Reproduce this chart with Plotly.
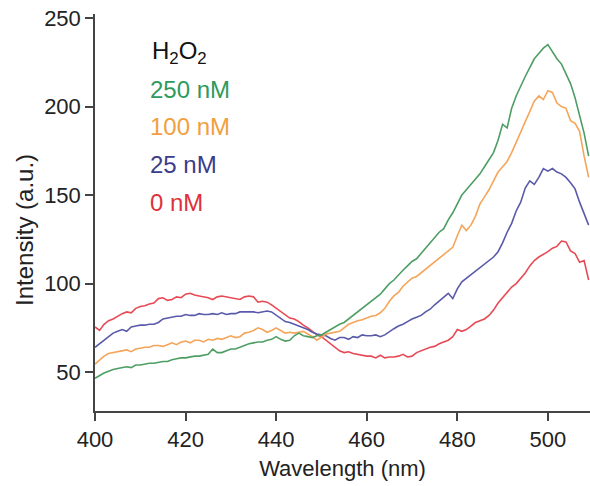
import plotly.graph_objects as go

wavelength = list(range(400, 510))

i_0nM = [75.5, 73.5, 77, 79, 80, 81.5, 83, 84, 83.5, 86,
         87, 87.5, 88.5, 89, 91.5, 92, 90.5, 91, 92.5, 92,
         94, 94.5, 93.5, 93, 92.5, 92, 91, 92.5, 93, 92.5,
         92, 91.5, 91, 92.5, 93, 92.5, 89.5, 90, 89.5, 88,
         86, 84, 82, 80.5, 80, 78.5, 76.5, 75, 73, 71,
         70, 68, 66.5, 64, 62, 61, 61.5, 60.5, 60, 59.5,
         59, 59, 58, 59.5, 58, 58.5, 58.5, 59, 60, 58.5,
         59, 61, 62, 63, 64, 64.5, 66, 67, 68, 70,
         74, 73, 74, 76, 78, 79, 80, 82, 85, 89,
         92, 95, 98, 100, 103, 106, 110, 113, 115, 116.5,
         118, 120, 121, 124, 123.5, 118.5, 117, 112, 113, 102]

i_25nM = [64, 66, 68.5, 70.5, 72, 73, 74, 73, 75.5, 76,
          76.5, 76.5, 77, 77, 78, 80, 80.5, 81, 81.5, 81.5,
          82.5, 82, 82, 83, 82.5, 82.5, 83, 82.5, 83.5, 82.5,
          83, 83, 84, 84, 84, 84, 83.5, 84, 84.5, 84,
          82, 80.5, 78.5, 78, 77, 76, 75, 74, 72.5, 71.5,
          71, 70.5, 69, 68, 69.5, 69.5, 68.5, 70, 69.5, 71,
          70.5, 70.5, 71, 70, 71, 73, 74.5, 76, 77, 78.5,
          80, 81, 82, 84, 85.5, 88, 90, 92, 94.5, 91.5,
          97, 101, 103, 105, 106.5, 109, 111, 113, 115, 118,
          123, 129, 134, 141, 146, 154, 158, 156, 160, 165,
          163.5, 165, 163, 162, 160, 157, 153.5, 146, 139, 133]

i_100nM = [54.5, 57, 59, 60.5, 61, 61.5, 62, 62.5, 61.5, 63,
           63.5, 64, 64, 65, 65, 64.5, 65.5, 66.5, 65.5, 67,
           67.5, 66.5, 68, 68, 67, 68.5, 68, 69, 68.5, 69.5,
           70.5, 69.5, 70, 72, 72.5, 73.5, 75, 74, 72.5, 73.5,
           75, 73.5, 72, 72.5, 72, 72.5, 73, 71.5, 70, 68,
           70, 71.5, 72, 72.5, 73, 75, 77, 78, 79, 79.5,
           80.5, 81.5, 82, 83.5, 86, 90, 93, 95, 98.5, 101,
           103, 104, 106, 108, 110, 112, 114.5, 116, 118, 120.5,
           127, 133, 130, 133, 138, 145, 149, 153, 158, 163,
           166, 169, 174, 180, 186, 192, 198, 203, 206, 204,
           209, 208, 202, 200, 199, 192, 190.5, 186, 172, 160]

i_250nM = [46.5, 48, 49.5, 50.5, 51.5, 52, 52.5, 53, 52.5, 54,
           54, 54.5, 55, 55, 55.5, 56, 56, 57, 57.5, 58,
           58, 58.5, 59, 59, 59.5, 60, 63, 61, 61, 62,
           63, 63, 64, 65, 66, 66.5, 67, 67, 68, 68.5,
           70, 68.5, 67.5, 68, 70.5, 72, 70.5, 70, 69.5, 70.5,
           71, 72.5, 74, 75.5, 77, 78, 80, 82, 84, 86,
           88, 90, 92, 94, 97, 100, 102, 105, 107.5, 110,
           112.5, 114, 117, 120, 123, 126, 129, 131, 136, 140,
           145, 150, 153, 156, 159, 162, 166, 170, 174, 181,
           190, 188, 199, 206, 212, 217, 222, 227, 230, 233,
           235, 231, 227, 224, 218, 213, 205, 195, 185, 172]

series_names = ["0 nM", "25 nM", "100 nM", "250 nM"]
series_values = [i_0nM, i_25nM, i_100nM, i_250nM]
line_colors = ["#e84a55", "#5a5aaa", "#f5a55a", "#4e9e64"]
label_colors = ["#e0303c", "#3c3c8c", "#f0a040", "#2e9a5e"]

x_ticks = [400, 420, 440, 460, 480, 500]
y_ticks = [50, 100, 150, 200, 250]

fig = go.Figure()
for name, vals, col in zip(series_names, series_values, line_colors):
    fig.add_trace(go.Scatter(x=wavelength, y=vals, mode="lines", name=name,
                             line=dict(color=col, width=1.6), showlegend=False))

font_family = "Liberation Sans, Arial, sans-serif"

# Legend-like labels
label_y = [0.524, 0.620, 0.716, 0.809]
fig.add_annotation(x=0.112, y=0.902, xref="paper", yref="paper", xanchor="left",
                   yanchor="middle", showarrow=False,
                   text="H<sub>2</sub>O<sub>2</sub>",
                   font=dict(family=font_family, size=24, color="#111111"))
for name, yy, col in zip(series_names, label_y, label_colors):
    fig.add_annotation(x=0.108, y=yy, xref="paper", yref="paper", xanchor="left",
                       yanchor="middle", showarrow=False, text=name,
                       font=dict(family=font_family, size=24, color=col))

# Y-axis title as annotation
fig.add_annotation(x=(25 - 95) / 495, y=0.456, xref="paper", yref="paper",
                   xanchor="center", yanchor="middle",
                   showarrow=False, text="Intensity (a.u.)", textangle=-90,
                   font=dict(family=font_family, size=24, color="#222222"))

fig.update_layout(
    width=590, height=486,
    margin=dict(l=95, r=0, t=14, b=75, autoexpand=False),
    paper_bgcolor="white", plot_bgcolor="white",
    font=dict(family=font_family, size=22, color="#222222"),
    xaxis=dict(range=[400, 509.3], tickvals=x_ticks, ticks="outside", ticklen=8,
               tickwidth=1.5, tickcolor="#444444", showline=True, linecolor="#444444",
               linewidth=1.5, showgrid=False, zeroline=False,
               ticklabeloverflow="allow",
               title=dict(text="Wavelength (nm)", standoff=9, font=dict(size=22)),
               tickfont=dict(size=22)),
    yaxis=dict(range=[28, 252.3], tickvals=y_ticks, ticks="outside", ticklen=8,
               tickwidth=1.5, tickcolor="#444444", showline=True, linecolor="#444444",
               linewidth=1.5, showgrid=False, zeroline=False,
               ticklabeloverflow="allow",
               tickfont=dict(size=22)),
)

fig.write_html(
    "out.html",
    config={"displayModeBar": False},
    post_script="document.body.style.margin='0';document.body.style.overflow='hidden';"
                "document.documentElement.style.overflow='hidden';",
)
